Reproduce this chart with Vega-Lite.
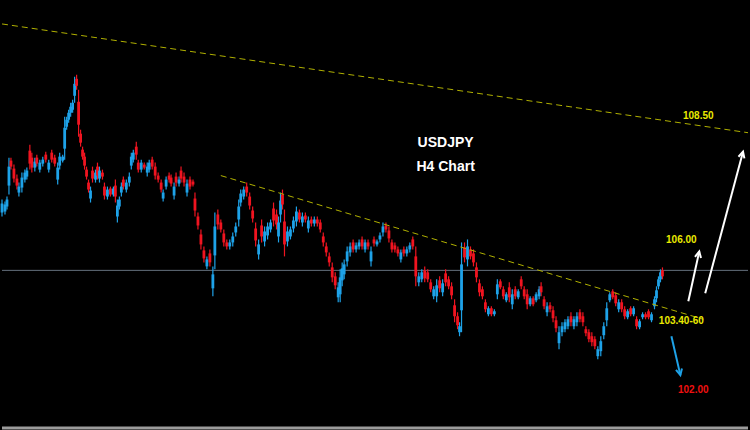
{
"$schema":"https://vega.github.io/schema/vega-lite/v6.json",
"width":750,"height":430,
"autosize":{"type":"fit","contains":"padding"},
"padding":0,
"background":"#000000",
"config":{"view":{"stroke":null}},
"datasets":{
"level":[{"p":105.225}],
"frame":[{"p":101.275}],
"trend":[{"t1":0,"p1":111.4,"t2":750,"p2":108.675},{"t1":220,"p1":107.6,"t2":705,"p2":104.0}],
"arrows":[{"id":"a","t1":690,"p1":104.45,"t2":701,"p2":105.7,"col":"w"},{"id":"b","t1":707,"p1":104.65,"t2":745,"p2":108.2,"col":"w"},{"id":"c","t1":673,"p1":103.575,"t2":682,"p2":102.6,"col":"b"}],
"titles":[{"t":446,"p":108.425,"label":"USDJPY"},{"t":446,"p":107.825,"label":"H4 Chart"}],
"levels":[{"t":700,"p":109.1,"label":"108.50"},{"t":683,"p":105.975,"label":"106.00"},{"t":683,"p":103.95,"label":"103.40-60"}],
"targets":[{"t":695,"p":102.225,"label":"102.00"}],
"candles":[
{"t":0,"o":106.675,"h":107.0,"l":106.575,"c":106.9},
{"t":3,"o":106.7,"h":106.95,"l":106.625,"c":106.875},
{"t":5,"o":106.825,"h":107.075,"l":106.75,"c":107.0},
{"t":7,"o":107.35,"h":108.05,"l":107.125,"c":107.825},
{"t":9,"o":107.975,"h":108.05,"l":107.75,"c":107.825},
{"t":12,"o":107.775,"h":107.875,"l":107.425,"c":107.525},
{"t":15,"o":107.525,"h":107.625,"l":107.25,"c":107.35},
{"t":17,"o":107.175,"h":107.425,"l":107.075,"c":107.325},
{"t":20,"o":107.3,"h":107.675,"l":107.175,"c":107.55},
{"t":23,"o":107.5,"h":107.75,"l":107.425,"c":107.675},
{"t":25,"o":107.575,"h":107.8,"l":107.5,"c":107.725},
{"t":28,"o":108.225,"h":108.375,"l":107.75,"c":107.9},
{"t":30,"o":108.05,"h":108.175,"l":107.675,"c":107.8},
{"t":33,"o":107.8,"h":108.05,"l":107.7,"c":107.95},
{"t":35,"o":108.05,"h":108.125,"l":107.825,"c":107.9},
{"t":38,"o":107.75,"h":108.0,"l":107.675,"c":107.925},
{"t":41,"o":107.9,"h":108.075,"l":107.825,"c":108.0},
{"t":44,"o":108.125,"h":108.2,"l":107.925,"c":108.0},
{"t":47,"o":107.75,"h":108.0,"l":107.675,"c":107.925},
{"t":50,"o":108.175,"h":108.25,"l":107.925,"c":108.0},
{"t":53,"o":108.05,"h":108.125,"l":107.825,"c":107.9},
{"t":56,"o":107.5,"h":107.925,"l":107.375,"c":107.8},
{"t":58,"o":107.85,"h":108.175,"l":107.75,"c":108.075},
{"t":61,"o":107.975,"h":108.125,"l":107.925,"c":108.075},
{"t":63,"o":108.275,"h":109.075,"l":108.0,"c":108.8},
{"t":65,"o":108.825,"h":109.075,"l":108.75,"c":109.0},
{"t":67,"o":109.0,"h":109.25,"l":108.925,"c":109.175},
{"t":69,"o":109.175,"h":109.425,"l":109.075,"c":109.325},
{"t":71,"o":109.25,"h":109.5,"l":109.175,"c":109.425},
{"t":73,"o":109.6,"h":110.075,"l":109.425,"c":109.9},
{"t":75,"o":110.025,"h":110.125,"l":109.75,"c":109.85},
{"t":77,"o":109.45,"h":109.75,"l":108.575,"c":108.875},
{"t":79,"o":108.65,"h":108.75,"l":108.325,"c":108.425},
{"t":81,"o":108.25,"h":108.325,"l":108.0,"c":108.075},
{"t":83,"o":108.075,"h":108.175,"l":107.75,"c":107.85},
{"t":85,"o":107.75,"h":107.825,"l":107.5,"c":107.575},
{"t":87,"o":107.425,"h":107.5,"l":107.175,"c":107.25},
{"t":89,"o":107.025,"h":107.325,"l":106.925,"c":107.225},
{"t":91,"o":107.725,"h":107.825,"l":107.425,"c":107.525},
{"t":94,"o":107.5,"h":107.75,"l":107.425,"c":107.675},
{"t":96,"o":107.825,"h":107.925,"l":107.5,"c":107.6},
{"t":98,"o":107.525,"h":107.825,"l":107.425,"c":107.725},
{"t":101,"o":107.675,"h":107.75,"l":107.5,"c":107.575},
{"t":103,"o":107.325,"h":107.425,"l":107.0,"c":107.1},
{"t":106,"o":107.075,"h":107.325,"l":107.0,"c":107.25},
{"t":109,"o":107.275,"h":107.325,"l":107.075,"c":107.125},
{"t":112,"o":107.125,"h":107.325,"l":107.075,"c":107.275},
{"t":114,"o":107.35,"h":107.5,"l":106.925,"c":107.075},
{"t":116,"o":106.575,"h":107.0,"l":106.425,"c":106.85},
{"t":118,"o":106.825,"h":107.075,"l":106.75,"c":107.0},
{"t":120,"o":107.175,"h":107.425,"l":107.075,"c":107.325},
{"t":122,"o":107.5,"h":107.575,"l":107.25,"c":107.325},
{"t":125,"o":107.25,"h":107.5,"l":107.175,"c":107.425},
{"t":128,"o":107.425,"h":107.675,"l":107.325,"c":107.575},
{"t":130,"o":107.85,"h":108.175,"l":107.75,"c":108.075},
{"t":132,"o":108.0,"h":108.25,"l":107.925,"c":108.175},
{"t":135,"o":108.325,"h":108.45,"l":108.0,"c":108.125},
{"t":137,"o":107.925,"h":108.0,"l":107.675,"c":107.75},
{"t":140,"o":107.75,"h":108.0,"l":107.675,"c":107.925},
{"t":143,"o":107.875,"h":107.925,"l":107.75,"c":107.8},
{"t":146,"o":107.675,"h":107.925,"l":107.575,"c":107.825},
{"t":148,"o":107.75,"h":108.0,"l":107.675,"c":107.925},
{"t":151,"o":108.0,"h":108.075,"l":107.75,"c":107.825},
{"t":154,"o":107.825,"h":107.925,"l":107.5,"c":107.6},
{"t":157,"o":107.6,"h":107.675,"l":107.425,"c":107.5},
{"t":160,"o":107.425,"h":107.5,"l":107.175,"c":107.25},
{"t":162,"o":107.025,"h":107.25,"l":106.95,"c":107.175},
{"t":165,"o":107.325,"h":107.575,"l":107.25,"c":107.5},
{"t":168,"o":107.6,"h":107.675,"l":107.425,"c":107.5},
{"t":170,"o":107.55,"h":107.625,"l":107.325,"c":107.4},
{"t":173,"o":107.1,"h":107.425,"l":107.0,"c":107.325},
{"t":175,"o":107.575,"h":107.675,"l":107.325,"c":107.425},
{"t":178,"o":107.4,"h":107.575,"l":107.325,"c":107.5},
{"t":180,"o":107.725,"h":107.825,"l":107.425,"c":107.525},
{"t":183,"o":107.575,"h":107.675,"l":107.325,"c":107.425},
{"t":186,"o":107.175,"h":107.5,"l":107.075,"c":107.4},
{"t":189,"o":107.5,"h":107.575,"l":107.25,"c":107.325},
{"t":192,"o":107.45,"h":107.5,"l":107.325,"c":107.375},
{"t":194,"o":107.025,"h":107.175,"l":106.575,"c":106.725},
{"t":197,"o":106.575,"h":106.675,"l":106.25,"c":106.35},
{"t":200,"o":106.125,"h":106.25,"l":105.75,"c":105.875},
{"t":203,"o":105.725,"h":105.825,"l":105.425,"c":105.525},
{"t":206,"o":105.325,"h":105.575,"l":105.25,"c":105.5},
{"t":209,"o":105.65,"h":105.75,"l":105.325,"c":105.425},
{"t":212,"o":104.775,"h":105.325,"l":104.575,"c":105.125},
{"t":214,"o":105.6,"h":106.675,"l":105.25,"c":106.325},
{"t":217,"o":106.625,"h":106.75,"l":106.25,"c":106.375},
{"t":220,"o":106.425,"h":106.5,"l":106.175,"c":106.25},
{"t":223,"o":106.15,"h":106.25,"l":105.825,"c":105.925},
{"t":226,"o":105.925,"h":106.0,"l":105.75,"c":105.825},
{"t":229,"o":105.825,"h":106.0,"l":105.75,"c":105.925},
{"t":232,"o":105.925,"h":106.175,"l":105.825,"c":106.075},
{"t":235,"o":106.175,"h":106.425,"l":106.075,"c":106.325},
{"t":238,"o":106.5,"h":107.0,"l":106.325,"c":106.825},
{"t":240,"o":106.925,"h":107.25,"l":106.825,"c":107.15},
{"t":243,"o":107.075,"h":107.325,"l":107.0,"c":107.25},
{"t":246,"o":107.325,"h":107.425,"l":107.075,"c":107.175},
{"t":249,"o":107.075,"h":107.175,"l":106.75,"c":106.85},
{"t":252,"o":106.725,"h":106.825,"l":106.425,"c":106.525},
{"t":255,"o":106.275,"h":106.425,"l":105.825,"c":105.975},
{"t":258,"o":105.625,"h":106.0,"l":105.5,"c":105.875},
{"t":261,"o":106.35,"h":106.5,"l":105.925,"c":106.075},
{"t":264,"o":105.95,"h":106.325,"l":105.825,"c":106.2},
{"t":267,"o":106.1,"h":106.425,"l":106.0,"c":106.325},
{"t":270,"o":106.25,"h":106.5,"l":106.175,"c":106.425},
{"t":273,"o":106.775,"h":106.925,"l":106.325,"c":106.475},
{"t":276,"o":106.625,"h":106.75,"l":106.25,"c":106.375},
{"t":278,"o":106.075,"h":106.575,"l":105.925,"c":106.425},
{"t":280,"o":106.625,"h":107.175,"l":106.425,"c":106.975},
{"t":282,"o":107.125,"h":107.25,"l":106.75,"c":106.875},
{"t":284,"o":106.45,"h":106.75,"l":105.575,"c":105.875},
{"t":287,"o":105.95,"h":106.325,"l":105.825,"c":106.2},
{"t":290,"o":106.075,"h":106.325,"l":106.0,"c":106.25},
{"t":293,"o":106.275,"h":106.575,"l":106.175,"c":106.475},
{"t":296,"o":106.45,"h":106.825,"l":106.325,"c":106.7},
{"t":299,"o":106.675,"h":106.75,"l":106.425,"c":106.5},
{"t":302,"o":106.425,"h":106.675,"l":106.325,"c":106.575},
{"t":305,"o":106.6,"h":106.675,"l":106.425,"c":106.5},
{"t":308,"o":106.275,"h":106.575,"l":106.175,"c":106.475},
{"t":311,"o":106.5,"h":106.575,"l":106.325,"c":106.4},
{"t":314,"o":106.4,"h":106.575,"l":106.325,"c":106.5},
{"t":317,"o":106.5,"h":106.575,"l":106.325,"c":106.4},
{"t":320,"o":106.425,"h":106.5,"l":106.175,"c":106.25},
{"t":323,"o":106.075,"h":106.175,"l":105.825,"c":105.925},
{"t":326,"o":105.825,"h":105.925,"l":105.575,"c":105.675},
{"t":329,"o":105.575,"h":105.675,"l":105.325,"c":105.425},
{"t":332,"o":105.3,"h":105.425,"l":104.925,"c":105.05},
{"t":335,"o":105.075,"h":105.175,"l":104.75,"c":104.85},
{"t":338,"o":104.55,"h":104.925,"l":104.425,"c":104.8},
{"t":340,"o":104.625,"h":105.25,"l":104.425,"c":105.05},
{"t":342,"o":104.975,"h":105.425,"l":104.825,"c":105.275},
{"t":344,"o":105.125,"h":105.5,"l":105.0,"c":105.375},
{"t":347,"o":105.45,"h":105.825,"l":105.325,"c":105.7},
{"t":350,"o":105.675,"h":105.925,"l":105.575,"c":105.825},
{"t":353,"o":105.925,"h":106.0,"l":105.675,"c":105.75},
{"t":356,"o":105.75,"h":105.925,"l":105.675,"c":105.85},
{"t":359,"o":105.825,"h":106.0,"l":105.75,"c":105.925},
{"t":362,"o":106.0,"h":106.075,"l":105.75,"c":105.825},
{"t":365,"o":105.75,"h":106.0,"l":105.675,"c":105.925},
{"t":368,"o":105.925,"h":106.0,"l":105.75,"c":105.825},
{"t":371,"o":105.45,"h":105.825,"l":105.325,"c":105.7},
{"t":374,"o":106.0,"h":106.075,"l":105.825,"c":105.9},
{"t":377,"o":105.875,"h":106.0,"l":105.825,"c":105.95},
{"t":380,"o":106.0,"h":106.175,"l":105.925,"c":106.1},
{"t":383,"o":106.175,"h":106.425,"l":106.075,"c":106.325},
{"t":386,"o":106.35,"h":106.425,"l":106.175,"c":106.25},
{"t":389,"o":106.225,"h":106.325,"l":105.925,"c":106.025},
{"t":392,"o":105.925,"h":106.0,"l":105.675,"c":105.75},
{"t":395,"o":105.85,"h":105.925,"l":105.675,"c":105.75},
{"t":398,"o":105.75,"h":105.825,"l":105.575,"c":105.65},
{"t":401,"o":105.5,"h":105.75,"l":105.425,"c":105.675},
{"t":404,"o":105.75,"h":105.825,"l":105.575,"c":105.65},
{"t":407,"o":105.65,"h":105.825,"l":105.575,"c":105.75},
{"t":410,"o":105.75,"h":105.925,"l":105.675,"c":105.85},
{"t":413,"o":106.0,"h":106.075,"l":105.75,"c":105.825},
{"t":416,"o":105.575,"h":105.825,"l":104.825,"c":105.075},
{"t":419,"o":104.925,"h":105.175,"l":104.825,"c":105.075},
{"t":422,"o":105.0,"h":105.25,"l":104.925,"c":105.175},
{"t":425,"o":105.225,"h":105.325,"l":104.925,"c":105.025},
{"t":428,"o":105.175,"h":105.25,"l":104.925,"c":105.0},
{"t":431,"o":104.925,"h":105.0,"l":104.675,"c":104.75},
{"t":434,"o":104.575,"h":104.825,"l":104.5,"c":104.75},
{"t":437,"o":104.575,"h":105.0,"l":104.425,"c":104.85},
{"t":440,"o":104.975,"h":105.075,"l":104.675,"c":104.775},
{"t":443,"o":104.675,"h":105.0,"l":104.575,"c":104.9},
{"t":446,"o":105.15,"h":105.25,"l":104.825,"c":104.925},
{"t":449,"o":105.0,"h":105.075,"l":104.75,"c":104.825},
{"t":452,"o":104.825,"h":104.925,"l":104.5,"c":104.6},
{"t":455,"o":104.35,"h":104.5,"l":103.925,"c":104.075},
{"t":458,"o":104.075,"h":104.175,"l":103.75,"c":103.85},
{"t":460,"o":103.675,"h":103.925,"l":103.575,"c":103.825},
{"t":462,"o":104.225,"h":105.925,"l":103.675,"c":105.375},
{"t":465,"o":105.8,"h":105.925,"l":105.425,"c":105.55},
{"t":468,"o":105.5,"h":106.0,"l":105.325,"c":105.825},
{"t":471,"o":105.75,"h":105.825,"l":105.5,"c":105.575},
{"t":474,"o":105.65,"h":105.75,"l":105.325,"c":105.425},
{"t":477,"o":105.3,"h":105.425,"l":104.925,"c":105.05},
{"t":480,"o":104.9,"h":105.0,"l":104.575,"c":104.675},
{"t":483,"o":104.75,"h":104.825,"l":104.5,"c":104.575},
{"t":486,"o":104.425,"h":104.5,"l":104.175,"c":104.25},
{"t":489,"o":104.125,"h":104.325,"l":104.075,"c":104.275},
{"t":492,"o":104.275,"h":104.325,"l":104.075,"c":104.125},
{"t":495,"o":104.125,"h":104.25,"l":104.075,"c":104.2},
{"t":498,"o":104.625,"h":105.0,"l":104.5,"c":104.875},
{"t":501,"o":104.95,"h":105.0,"l":104.75,"c":104.8},
{"t":504,"o":104.75,"h":104.825,"l":104.5,"c":104.575},
{"t":507,"o":104.475,"h":104.675,"l":104.425,"c":104.625},
{"t":510,"o":104.8,"h":104.925,"l":104.425,"c":104.55},
{"t":513,"o":104.375,"h":104.75,"l":104.25,"c":104.625},
{"t":516,"o":104.75,"h":104.825,"l":104.5,"c":104.575},
{"t":519,"o":104.55,"h":104.75,"l":104.5,"c":104.7},
{"t":522,"o":105.0,"h":105.075,"l":104.75,"c":104.825},
{"t":525,"o":104.75,"h":104.825,"l":104.5,"c":104.575},
{"t":528,"o":104.625,"h":104.75,"l":104.25,"c":104.375},
{"t":531,"o":104.375,"h":104.575,"l":104.325,"c":104.525},
{"t":534,"o":104.525,"h":104.575,"l":104.325,"c":104.375},
{"t":537,"o":104.475,"h":104.675,"l":104.425,"c":104.625},
{"t":540,"o":104.575,"h":104.825,"l":104.5,"c":104.75},
{"t":542,"o":104.825,"h":104.925,"l":104.575,"c":104.675},
{"t":545,"o":104.5,"h":104.575,"l":104.25,"c":104.325},
{"t":548,"o":104.175,"h":104.425,"l":104.075,"c":104.325},
{"t":551,"o":104.35,"h":104.425,"l":104.175,"c":104.25},
{"t":554,"o":104.225,"h":104.325,"l":103.925,"c":104.025},
{"t":557,"o":103.975,"h":104.075,"l":103.675,"c":103.775},
{"t":560,"o":103.4,"h":103.825,"l":103.25,"c":103.675},
{"t":563,"o":103.675,"h":103.925,"l":103.575,"c":103.825},
{"t":566,"o":103.75,"h":104.0,"l":103.675,"c":103.925},
{"t":569,"o":103.825,"h":104.075,"l":103.75,"c":104.0},
{"t":572,"o":104.075,"h":104.175,"l":103.825,"c":103.925},
{"t":575,"o":103.825,"h":104.075,"l":103.75,"c":104.0},
{"t":578,"o":103.925,"h":104.175,"l":103.825,"c":104.075},
{"t":581,"o":104.175,"h":104.25,"l":103.925,"c":104.0},
{"t":584,"o":104.075,"h":104.175,"l":103.825,"c":103.925},
{"t":587,"o":103.75,"h":103.825,"l":103.575,"c":103.65},
{"t":590,"o":103.675,"h":103.75,"l":103.425,"c":103.5},
{"t":593,"o":103.575,"h":103.675,"l":103.325,"c":103.425},
{"t":596,"o":103.5,"h":103.575,"l":103.25,"c":103.325},
{"t":599,"o":103.075,"h":103.325,"l":103.0,"c":103.25},
{"t":602,"o":103.2,"h":103.575,"l":103.075,"c":103.45},
{"t":605,"o":103.6,"h":103.925,"l":103.5,"c":103.825},
{"t":608,"o":103.975,"h":104.425,"l":103.825,"c":104.275},
{"t":611,"o":104.475,"h":104.675,"l":104.425,"c":104.625},
{"t":614,"o":104.7,"h":104.75,"l":104.5,"c":104.55},
{"t":617,"o":104.6,"h":104.675,"l":104.325,"c":104.4},
{"t":620,"o":104.25,"h":104.5,"l":104.175,"c":104.425},
{"t":623,"o":104.425,"h":104.5,"l":104.175,"c":104.25},
{"t":626,"o":104.25,"h":104.325,"l":104.0,"c":104.075},
{"t":629,"o":104.05,"h":104.25,"l":104.0,"c":104.2},
{"t":632,"o":104.275,"h":104.325,"l":104.075,"c":104.125},
{"t":635,"o":104.125,"h":104.325,"l":104.075,"c":104.275},
{"t":638,"o":104.0,"h":104.075,"l":103.75,"c":103.825},
{"t":641,"o":103.8,"h":104.0,"l":103.75,"c":103.95},
{"t":644,"o":104.05,"h":104.175,"l":104.0,"c":104.125},
{"t":647,"o":104.125,"h":104.175,"l":104.0,"c":104.05},
{"t":650,"o":104.2,"h":104.25,"l":104.0,"c":104.05},
{"t":653,"o":103.975,"h":104.175,"l":103.925,"c":104.125},
{"t":656,"o":104.325,"h":104.575,"l":104.25,"c":104.5},
{"t":658,"o":104.525,"h":104.825,"l":104.425,"c":104.725},
{"t":660,"o":104.825,"h":105.075,"l":104.75,"c":105.0},
{"t":662,"o":105.0,"h":105.25,"l":104.925,"c":105.175},
{"t":664,"o":105.225,"h":105.3,"l":105.0,"c":105.075}
]
},
"layer":[
{"data":{"name":"level"},"mark":{"type":"rule","color":"#64707c","strokeWidth":1},
 "encoding":{"y":{"field":"p","type":"quantitative","scale":{"domain":[101.25,112],"nice":false,"zero":false},"axis":null}}},
{"data":{"name":"frame"},"mark":{"type":"rule","color":"#9c9c9c","strokeWidth":3},
 "encoding":{"y":{"field":"p","type":"quantitative","scale":{"domain":[101.25,112],"nice":false,"zero":false},"axis":null}}},
{"data":{"name":"candles"},"mark":{"type":"rule","strokeWidth":1.2},
 "encoding":{
  "x":{"field":"t","type":"quantitative","scale":{"domain":[0,750],"nice":false,"zero":false},"axis":null},
  "y":{"field":"l","type":"quantitative","scale":{"domain":[101.25,112],"nice":false,"zero":false},"axis":null},
  "y2":{"field":"h"},
  "color":{"condition":{"test":"datum.c >= datum.o","value":"#1ea2e8"},"value":"#f01420"}}},
{"data":{"name":"candles"},"mark":{"type":"rule","strokeWidth":2.8},
 "encoding":{
  "x":{"field":"t","type":"quantitative","scale":{"domain":[0,750],"nice":false,"zero":false},"axis":null},
  "y":{"field":"o","type":"quantitative","scale":{"domain":[101.25,112],"nice":false,"zero":false},"axis":null},
  "y2":{"field":"c"},
  "color":{"condition":{"test":"datum.c >= datum.o","value":"#1ea2e8"},"value":"#f01420"}}},
{"data":{"name":"trend"},"mark":{"type":"rule","color":"#b0b000","strokeWidth":1,"strokeDash":[6,4]},
 "encoding":{
  "x":{"field":"t1","type":"quantitative","scale":{"domain":[0,750],"nice":false,"zero":false},"axis":null},
  "y":{"field":"p1","type":"quantitative","scale":{"domain":[101.25,112],"nice":false,"zero":false},"axis":null},
  "x2":{"field":"t2"},"y2":{"field":"p2"}}},
{"data":{"name":"arrows"},"mark":{"type":"rule","strokeWidth":2},
 "encoding":{
  "x":{"field":"t1","type":"quantitative","scale":{"domain":[0,750],"nice":false,"zero":false},"axis":null},
  "y":{"field":"p1","type":"quantitative","scale":{"domain":[101.25,112],"nice":false,"zero":false},"axis":null},
  "x2":{"field":"t2"},"y2":{"field":"p2"},
  "color":{"field":"col","type":"nominal","scale":{"domain":["w","b"],"range":["#ffffff","#1ea2e8"]},"legend":null}}},
{"data":{"name":"arrows"},"transform":[{"filter":"datum.id == 'a'"}],
 "mark":{"type":"point","shape":"M-0.5,1L0,0L0.5,1","filled":false,"color":"#ffffff","strokeWidth":2,"size":150,"angle":12,"opacity":1},
 "encoding":{
  "x":{"field":"t2","type":"quantitative","scale":{"domain":[0,750],"nice":false,"zero":false},"axis":null},
  "y":{"field":"p2","type":"quantitative","scale":{"domain":[101.25,112],"nice":false,"zero":false},"axis":null}}},
{"data":{"name":"arrows"},"transform":[{"filter":"datum.id == 'b'"}],
 "mark":{"type":"point","shape":"M-0.5,1L0,0L0.5,1","filled":false,"color":"#ffffff","strokeWidth":2,"size":150,"angle":15,"opacity":1},
 "encoding":{
  "x":{"field":"t2","type":"quantitative","scale":{"domain":[0,750],"nice":false,"zero":false},"axis":null},
  "y":{"field":"p2","type":"quantitative","scale":{"domain":[101.25,112],"nice":false,"zero":false},"axis":null}}},
{"data":{"name":"arrows"},"transform":[{"filter":"datum.id == 'c'"}],
 "mark":{"type":"point","shape":"M-0.5,1L0,0L0.5,1","filled":false,"color":"#1ea2e8","strokeWidth":2,"size":150,"angle":167,"opacity":1},
 "encoding":{
  "x":{"field":"t2","type":"quantitative","scale":{"domain":[0,750],"nice":false,"zero":false},"axis":null},
  "y":{"field":"p2","type":"quantitative","scale":{"domain":[101.25,112],"nice":false,"zero":false},"axis":null}}},
{"data":{"name":"titles"},"mark":{"type":"text","font":"Liberation Sans","fontWeight":"bold","fontSize":14,"color":"#ffffff","align":"center","baseline":"middle"},
 "encoding":{
  "x":{"field":"t","type":"quantitative","scale":{"domain":[0,750],"nice":false,"zero":false},"axis":null},
  "y":{"field":"p","type":"quantitative","scale":{"domain":[101.25,112],"nice":false,"zero":false},"axis":null},
  "text":{"field":"label"}}},
{"data":{"name":"levels"},"mark":{"type":"text","font":"Liberation Sans","fontWeight":"bold","fontSize":10,"color":"#eaea00","align":"center","baseline":"middle"},
 "encoding":{
  "x":{"field":"t","type":"quantitative","scale":{"domain":[0,750],"nice":false,"zero":false},"axis":null},
  "y":{"field":"p","type":"quantitative","scale":{"domain":[101.25,112],"nice":false,"zero":false},"axis":null},
  "text":{"field":"label"}}},
{"data":{"name":"targets"},"mark":{"type":"text","font":"Liberation Sans","fontWeight":"bold","fontSize":10,"color":"#f01010","align":"center","baseline":"middle"},
 "encoding":{
  "x":{"field":"t","type":"quantitative","scale":{"domain":[0,750],"nice":false,"zero":false},"axis":null},
  "y":{"field":"p","type":"quantitative","scale":{"domain":[101.25,112],"nice":false,"zero":false},"axis":null},
  "text":{"field":"label"}}}
]
}
